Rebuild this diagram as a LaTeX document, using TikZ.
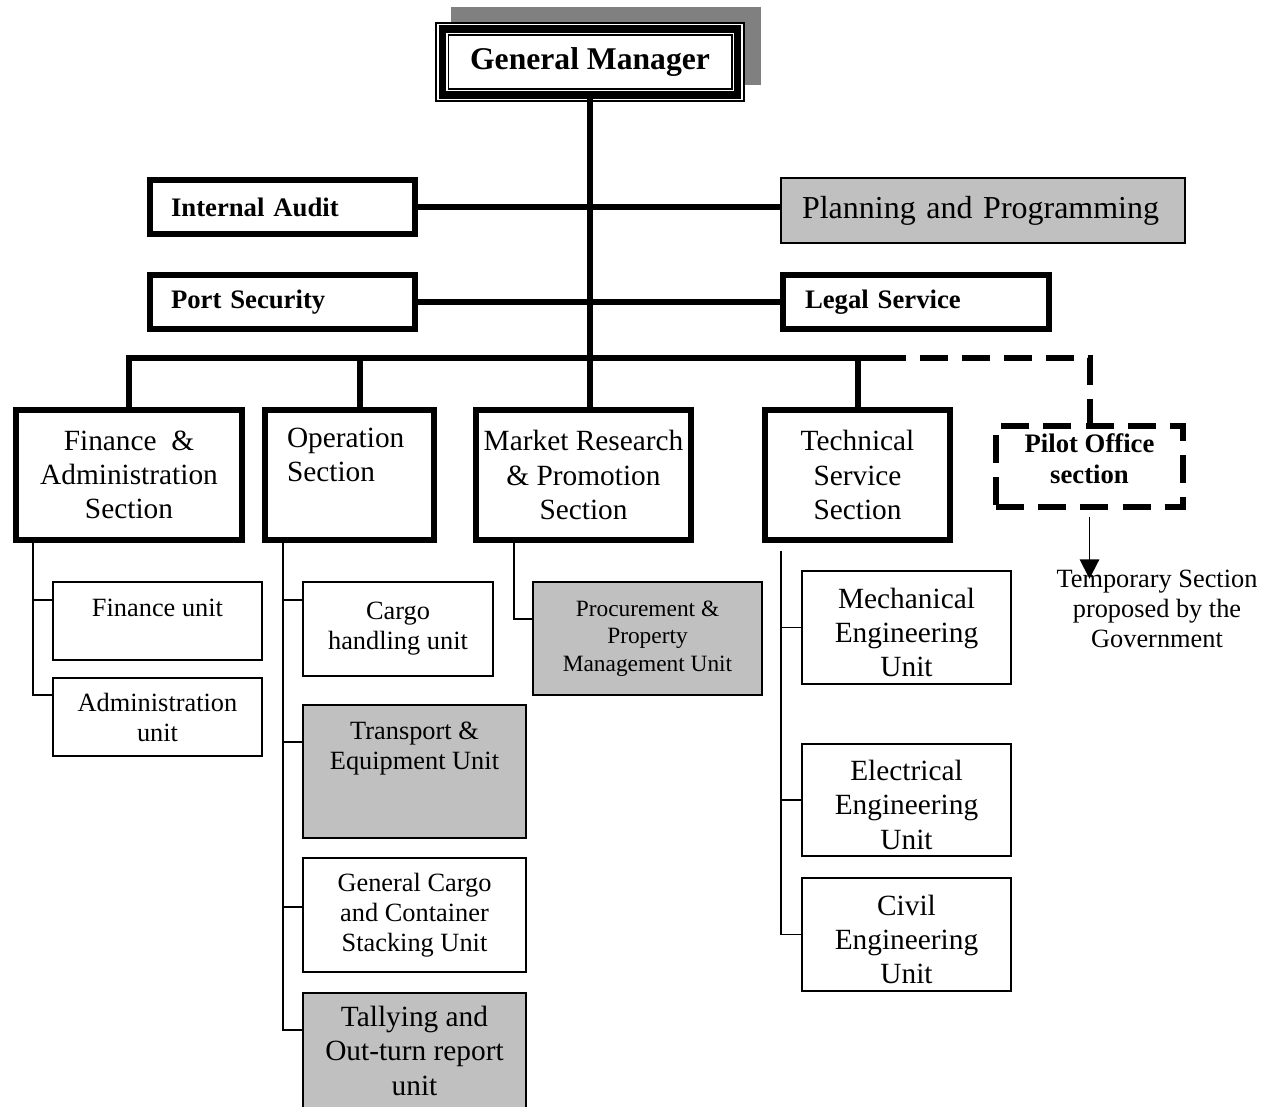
\documentclass[tikz,border=0pt]{standalone}
\usepackage{fontspec}
\setmainfont{Liberation Serif}
\usetikzlibrary{arrows.meta}
\definecolor{panelgray}{HTML}{C0C0C0}
\definecolor{shadowgray}{HTML}{808080}
\newcommand{\secfont}{\fontsize{16.7}{19.4}\selectfont}
\newcommand{\unitfont}{\fontsize{15}{17.1}\selectfont}
\newcommand{\smallunitfont}{\fontsize{13.3}{15.6}\selectfont}
\newcommand{\headfont}{\fontsize{15.2}{17.6}\selectfont\bfseries}
\tikzset{
  section/.style={draw, line width=3.4pt, fill=white, align=center, font=\secfont, minimum height=2.6cm},
  staff/.style={draw, line width=3.4pt, fill=white, align=left, font=\headfont, minimum height=1.08cm},
  unit/.style={draw, line width=1.1pt, fill=white, align=center, font=\unitfont},
  shaded/.style={fill=panelgray},
  link/.style={line width=3.4pt},
  sublink/.style={line width=1.1pt},
}
\begin{document}
\begin{tikzpicture}[x=0.02cm, y=-0.02cm]
\useasboundingbox (0,0) rectangle (1277,1106);
% general manager with shadow and triple frame
\fill[shadowgray] (451,7) rectangle (761,85);
\filldraw[fill=white, line width=0.6pt] (436,23) rectangle (744,101);
\node[draw, line width=4pt, outer sep=0pt, minimum width=5.92cm, minimum height=1.32cm,
      font=\fontsize{18}{21}\selectfont\bfseries] (gm) at (590,62) {General Manager};
\draw[line width=0.6pt] ([shift={(6,6)}]gm.north west) rectangle ([shift={(-6,-6)}]gm.south east);

% staff offices
\node[staff, minimum width=5.3cm, text width=4.46cm, inner xsep=0.42cm] (audit) at (282.5,207) {Internal Audit};
\node[draw, line width=1.1pt, fill=panelgray, minimum width=8.08cm, minimum height=1.3cm, text width=7.24cm,
      inner xsep=0.42cm, align=left, font=\fontsize{18.2}{21}\selectfont] (plan) at (983,210.5) {Planning and Programming};
\node[staff, minimum width=5.3cm, text width=4.46cm, inner xsep=0.42cm] (security) at (282.5,302) {Port Security};
\node[staff, minimum width=5.32cm, text width=4.44cm, inner xsep=0.44cm] (legal) at (916,302) {Legal Service};

% sections
\node[section, minimum width=4.52cm] (fin) at (129,475) {Finance\ \ \&\\Administration\\Section};
\node[section, minimum width=3.38cm, text width=2.5cm, inner xsep=0.44cm, align=left, text depth=42.5pt] (ops) at (349.5,475) {Operation\\Section};
\node[section, minimum width=4.3cm] (mkt) at (583.5,475) {Market Research\\\& Promotion\\Section};
\node[section, minimum width=3.7cm] (tech) at (857.5,475) {Technical\\Service\\Section};
\node[section, dash pattern=on 16pt off 8pt, font=\headfont, minimum width=3.74cm, minimum height=1.62cm, text depth=9pt] (pilot) at (1089.5,466.5) {Pilot Office\\section};

% main lines
\coordinate (bus) at (590,358);
\draw[link] (gm.south) -- (gm.south |- mkt.north);
\draw[link] (audit.east) -- (audit.east -| plan.west);
\draw[link] (security.east) -- (legal.west);
\draw[link] (fin.north) |- (bus) -| (tech.north);
\draw[link] ([xshift=0.21cm]ops.north) -- ([xshift=0.21cm]ops.north |- bus);
\draw[link] (tech.north |- bus) -- ++(20,0);
\draw[link, dash pattern=on 16pt off 8pt] ([xshift=0.4cm]tech.north |- bus) -| (pilot.north);

% units
\node[unit, minimum width=4.18cm, minimum height=1.56cm, text depth=15pt] (finu) at (157.5,621) {Finance unit};
\node[unit, minimum width=4.18cm, minimum height=1.56cm] (admu) at (157.5,717) {Administration\\unit};
\node[unit, minimum width=3.8cm, minimum height=1.88cm] (cargo) at (398,629) {Cargo\\handling unit};
\node[unit, shaded, minimum width=4.46cm, minimum height=2.66cm, text depth=29pt] (transp) at (414.5,771.5) {Transport \&\\Equipment Unit};
\node[unit, minimum width=4.46cm, minimum height=2.28cm] (gencargo) at (414.5,915) {General Cargo\\and Container\\Stacking Unit};
\node[unit, shaded, font=\secfont, minimum width=4.46cm, minimum height=2.64cm, text depth=9.4pt] (tally) at (414.5,1059) {Tallying and\\Out-turn report\\unit};
\node[unit, shaded, font=\smallunitfont, minimum width=4.58cm, minimum height=2.26cm] (procure) at (647.5,638.5) {Procurement \&\\Property\\Management Unit};
\node[unit, font=\secfont, minimum width=4.18cm, minimum height=2.26cm, text height=56pt] (mech) at (906.5,627.5) {Mechanical\\Engineering\\Unit};
\node[unit, font=\secfont, minimum width=4.18cm, minimum height=2.24cm, text height=56pt] (elec) at (906.5,800) {Electrical\\Engineering\\Unit};
\node[unit, font=\secfont, minimum width=4.18cm, minimum height=2.26cm, text height=56pt] (civil) at (906.5,934.5) {Civil\\Engineering\\Unit};

% unit brackets
\coordinate (finsp) at ([xshift=-1.92cm]fin.south);
\foreach \u/\s in {finu/0.42cm, admu/0.44cm}
  \draw[sublink] (finsp) |- ([yshift=\s]\u.west);
\coordinate (opssp) at ([xshift=-1.33cm]ops.south);
\foreach \u/\s in {cargo/0.58cm, transp/0.59cm, gencargo/0.16cm, tally/0.58cm}
  \draw[sublink] (opssp) |- ([yshift=\s]\u.west);
\coordinate (mktsp) at ([xshift=-1.39cm]mkt.south);
\draw[sublink] (mktsp) |- ([yshift=0.39cm]procure.west);
\coordinate (techsp) at ([xshift=-1.53cm, yshift=-0.16cm]tech.south);
\foreach \u in {mech, elec, civil}
  \draw[sublink] (techsp) |- (\u.west);

% note on the pilot office
\node[font=\unitfont, align=center, inner sep=0pt] (temp) at (1157,609) {Temporary Section\\proposed by the\\Government};
\draw[sublink, -{Triangle[width=11pt,length=11pt]}] ([yshift=-0.14cm]pilot.south) -- ([yshift=-0.18cm]pilot.south |- temp.north);
\end{tikzpicture}
\end{document}
